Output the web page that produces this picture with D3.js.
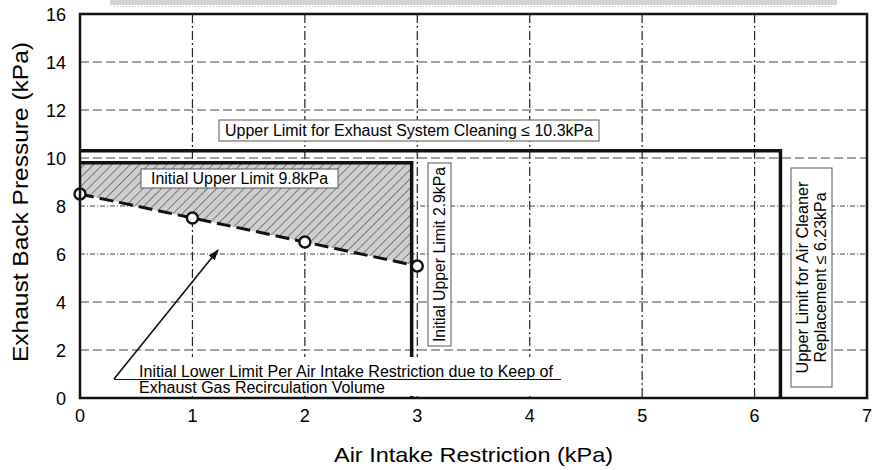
<!DOCTYPE html>
<html>
<head>
<meta charset="utf-8">
<script src="https://cdn.jsdelivr.net/npm/d3@7"></script>
<style>
  html, body { margin: 0; padding: 0; background: #fff; }
  svg { display: block; font-family: "Liberation Sans", Arial, sans-serif; }
</style>
</head>
<body>
<div id="chart"></div>
<script>
const width = 878;
const height = 470;

// data
const xTicks = [0, 1, 2, 3, 4, 5, 6, 7];
const yTicks = [0, 2, 4, 6, 8, 10, 12, 14, 16];
const lowerX = [0, 1, 2, 3];
const lowerY = [8.5, 7.5, 6.5, 5.5];
const cleaningLimit = 10.3;   // exhaust back pressure, kPa
const cleanerLimit = 6.23;    // air intake restriction, kPa
const initialUpperP = 9.8;    // kPa
const initialUpperR = 2.95;   // drawn position of "2.9kPa" limit

const margin = { top: 14, right: 11, bottom: 72, left: 80 };

const svg = d3.select("#chart")
  .append("svg")
  .attr("width", width)
  .attr("height", height);

const x = d3.scaleLinear().domain([0, 7]).range([margin.left, width - margin.right]);
const y = d3.scaleLinear().domain([0, 16]).range([height - margin.bottom, margin.top]);

// scan artifact along the top edge
svg.append("rect")
  .attr("x", 110).attr("y", 0).attr("width", 727).attr("height", 5)
  .attr("fill", "#d4d4d4");
svg.append("line")
  .attr("x1", 114).attr("x2", 834).attr("y1", 6.5).attr("y2", 6.5)
  .attr("stroke", "#bbb").attr("stroke-dasharray", "1,2");

// hatch pattern
const defs = svg.append("defs");
const pat = defs.append("pattern")
  .attr("id", "hatch")
  .attr("patternUnits", "userSpaceOnUse")
  .attr("width", 6.5).attr("height", 6.5)
  .attr("patternTransform", "rotate(45)");
pat.append("rect").attr("width", 6.5).attr("height", 6.5).attr("fill", "#cfcfcf");
pat.append("line")
  .attr("x1", 0).attr("x2", 0).attr("y1", 0).attr("y2", 6.5)
  .attr("stroke", "#222").attr("stroke-width", 1);

// grid
const g = svg.append("g");
g.selectAll(".vgrid")
  .data(xTicks.slice(1, -1))
  .join("line")
  .attr("x1", d => x(d)).attr("x2", d => x(d))
  .attr("y1", y(16)).attr("y2", y(0))
  .attr("stroke", "#222").attr("stroke-width", 1.2)
  .attr("stroke-dasharray", "9,3,2,3");
g.selectAll(".hgrid")
  .data(yTicks.slice(1, -1))
  .join("line")
  .attr("x1", x(0)).attr("x2", x(7))
  .attr("y1", d => y(d)).attr("y2", d => y(d))
  .attr("stroke", "#444").attr("stroke-width", 1)
  .attr("stroke-dasharray", d => (d === 6 || d === 8) ? "5,2,1,2" : "9,4");

// hatched region between lower limit and initial upper limit
const lowerAt = xv => {
  const i = Math.min(Math.floor(xv), lowerX.length - 2);
  const t = (xv - lowerX[i]) / (lowerX[i + 1] - lowerX[i]);
  return lowerY[i] + t * (lowerY[i + 1] - lowerY[i]);
};
const regionPts = [[0, initialUpperP], [initialUpperR, initialUpperP], [initialUpperR, lowerAt(initialUpperR)]];
for (let i = lowerX.length - 1; i >= 0; i--) {
  if (lowerX[i] <= initialUpperR) regionPts.push([lowerX[i], lowerY[i]]);
}
svg.append("path")
  .attr("d", d3.line().x(d => x(d[0])).y(d => y(d[1]))(regionPts) + "Z")
  .attr("fill", "url(#hatch)");

// initial upper limits (thick)
svg.append("path")
  .attr("d", d3.line()([[x(0), y(initialUpperP)], [x(initialUpperR), y(initialUpperP)], [x(initialUpperR), y(0)]]))
  .attr("fill", "none").attr("stroke", "#111").attr("stroke-width", 3.5);

// cleaning / air cleaner limits (thick)
svg.append("path")
  .attr("d", d3.line()([[x(0), y(cleaningLimit)], [x(cleanerLimit), y(cleaningLimit)], [x(cleanerLimit), y(0)]]))
  .attr("fill", "none").attr("stroke", "#111").attr("stroke-width", 3.5);

// lower limit dashed line
const pts = lowerX.map((d, i) => [d, lowerY[i]]);
svg.append("path")
  .attr("d", d3.line().x(d => x(d[0])).y(d => y(d[1]))(pts))
  .attr("fill", "none").attr("stroke", "#111").attr("stroke-width", 3)
  .attr("stroke-dasharray", "14,6");
svg.selectAll(".pt")
  .data(pts)
  .join("circle")
  .attr("cx", d => x(d[0])).attr("cy", d => y(d[1]))
  .attr("r", 5.5)
  .attr("fill", "#fff").attr("stroke", "#111").attr("stroke-width", 2.4);

// lower limit annotation (white block hides grid behind the text)
svg.append("rect")
  .attr("x", 135).attr("y", 357).attr("width", 426).attr("height", 39)
  .attr("fill", "#fff");

// frame
svg.append("rect")
  .attr("x", x(0)).attr("y", y(16))
  .attr("width", x(7) - x(0)).attr("height", y(0) - y(16))
  .attr("fill", "none").attr("stroke", "#111").attr("stroke-width", 2.5);

// axes tick labels
svg.selectAll(".xt")
  .data(xTicks)
  .join("text")
  .attr("x", d => x(d)).attr("y", y(0) + 24)
  .attr("text-anchor", "middle")
  .attr("font-size", 18)
  .text(d => d);
svg.selectAll(".yt")
  .data(yTicks)
  .join("text")
  .attr("x", x(0) - 14).attr("y", d => y(d) + 6.5)
  .attr("text-anchor", "end")
  .attr("font-size", 18)
  .text(d => d);

svg.append("text")
  .attr("x", 334).attr("y", 462)
  .attr("font-size", 21)
  .attr("textLength", 279).attr("lengthAdjust", "spacingAndGlyphs")
  .text("Air Intake Restriction (kPa)");
svg.append("text")
  .attr("transform", "translate(28,362) rotate(-90)")
  .attr("font-size", 22)
  .attr("textLength", 320).attr("lengthAdjust", "spacingAndGlyphs")
  .text("Exhaust Back Pressure (kPa)");

// annotation boxes
function boxLabel(cx, cy, lines, boxW, boxH, rotate) {
  const gg = svg.append("g").attr("transform", `translate(${cx},${cy}) rotate(${rotate})`);
  gg.append("rect")
    .attr("x", -boxW / 2).attr("y", -boxH / 2)
    .attr("width", boxW).attr("height", boxH)
    .attr("fill", "#fff").attr("stroke", "#555").attr("stroke-width", 1);
  const lh = 18;
  lines.forEach((l, i) => {
    gg.append("text")
      .attr("x", -l.len / 2)
      .attr("y", (i - (lines.length - 1) / 2) * lh + 5.5)
      .attr("font-size", 16)
      .attr("textLength", l.len).attr("lengthAdjust", "spacingAndGlyphs")
      .text(l.t);
  });
}

boxLabel(409, 130.5, [{ t: "Upper Limit for Exhaust System Cleaning \u2264 10.3kPa", len: 368 }], 380, 21, 0);
boxLabel(239.5, 178.5, [{ t: "Initial Upper Limit 9.8kPa", len: 177 }], 197, 19, 0);
boxLabel(439.5, 254.5, [{ t: "Initial Upper Limit 2.9kPa", len: 175 }], 183, 23, -90);
boxLabel(811.5, 277.5, [
  { t: "Upper Limit for Air Cleaner", len: 192 },
  { t: "Replacement \u2264 6.23kPa", len: 170 }
], 219, 41, -90);

// arrow + underline
defs.append("marker")
  .attr("id", "arrow")
  .attr("viewBox", "0 0 10 10")
  .attr("refX", 9).attr("refY", 5)
  .attr("markerWidth", 7).attr("markerHeight", 7)
  .attr("orient", "auto")
  .append("path").attr("d", "M0,1.5 L10,5 L0,8.5 Z").attr("fill", "#111");

svg.append("line")
  .attr("x1", 114).attr("y1", 379).attr("x2", 218).attr("y2", 250)
  .attr("stroke", "#111").attr("stroke-width", 1.6)
  .attr("marker-end", "url(#arrow)");
svg.append("line")
  .attr("x1", 114).attr("y1", 379.5).attr("x2", 561).attr("y2", 379.5)
  .attr("stroke", "#111").attr("stroke-width", 1.2);
svg.append("text")
  .attr("x", 139).attr("y", 377)
  .attr("font-size", 16)
  .attr("textLength", 414).attr("lengthAdjust", "spacingAndGlyphs")
  .text("Initial Lower Limit Per Air Intake Restriction due to Keep of");
svg.append("text")
  .attr("x", 139).attr("y", 393)
  .attr("font-size", 16)
  .attr("textLength", 246).attr("lengthAdjust", "spacingAndGlyphs")
  .text("Exhaust Gas Recirculation Volume");
</script>
</body>
</html>
